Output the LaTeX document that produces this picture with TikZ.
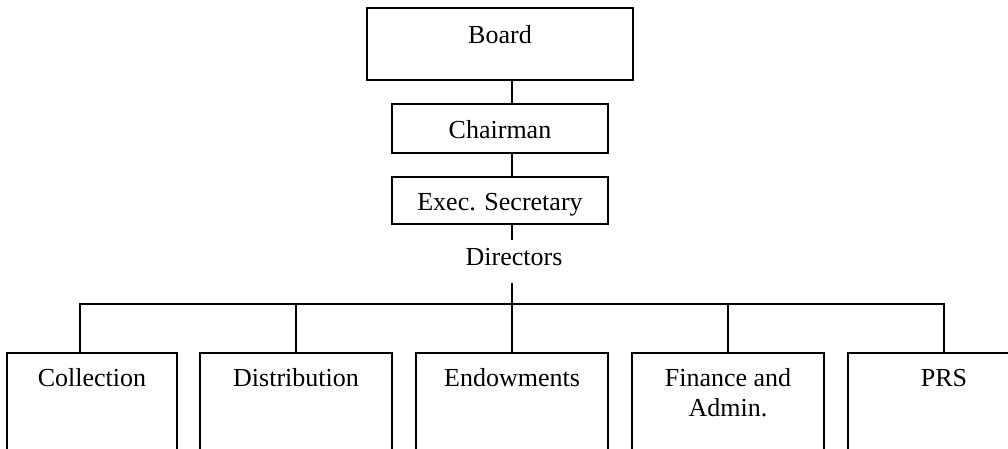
\documentclass[tikz,border=0pt]{standalone}
\usepackage{fontspec}
\setmainfont{Liberation Serif}
\begin{document}
\begin{tikzpicture}[x=1pt,y=-1pt,
  box/.style={draw,line width=2pt,rectangle,inner sep=0pt},
  lbl/.style={anchor=base,font=\fontsize{26}{31}\selectfont,inner sep=0pt},
  conn/.style={line width=2pt}]
\useasboundingbox (0,0) rectangle (1008,448);
\clip (0,0) rectangle (1008,448);
% upper boxes
\node[box, minimum width=266pt, minimum height=72pt] (board) at (500,44) {};
\node[box, minimum width=216pt, minimum height=49pt] (chair) at (500,128.5) {};
\node[box, minimum width=216pt, minimum height=47pt] (exec) at (500,200.5) {};
\node[lbl] (tboard) at (500,43) {Board};
\node[lbl] (tchair) at (500,138) {Chairman};
\node[lbl] (texec) at (500,210) {Exec. Secretary};
\node[lbl] (dir) at (514,265) {Directors};
% lower boxes
\node[box, minimum width=170pt, minimum height=120pt] (coll) at (92,413) {};
\node[box, minimum width=192pt, minimum height=120pt] (dist) at (296,413) {};
\node[box, minimum width=192pt, minimum height=120pt] (endow) at (512,413) {};
\node[box, minimum width=192pt, minimum height=120pt] (fin) at (728,413) {};
\node[box, minimum width=192pt, minimum height=120pt] (prs) at (944,413) {};
\node[lbl] (tcoll) at (92,386) {Collection};
\node[lbl] (tdist) at (296,386) {Distribution};
\node[lbl] (tendow) at (512,386) {Endowments};
\node[lbl] (tfin1) at (728,386) {Finance and};
\node[lbl] (tfin2) at (728,416) {Admin.};
\node[lbl] (tprs) at (944,386) {PRS};
% connectors
\coordinate (cx) at (512,0);
\coordinate (cl) at (80,0);
\coordinate (d1) at (512,240);
\coordinate (d2) at (512,283);
\coordinate (bus) at (512,304);
\draw[conn] (board.south -| cx) -- (chair.north -| cx);
\draw[conn] (chair.south -| cx) -- (exec.north -| cx);
\draw[conn] (exec.south -| cx) -- (d1);
\draw[conn] (d2) -- (bus);
\draw[conn] (coll.north -| cl) |- (bus) -| (prs.north);
\draw[conn] (dist.north) -- (dist.north |- bus);
\draw[conn] (endow.north) -- (bus);
\draw[conn] (fin.north) -- (fin.north |- bus);
\end{tikzpicture}
\end{document}
